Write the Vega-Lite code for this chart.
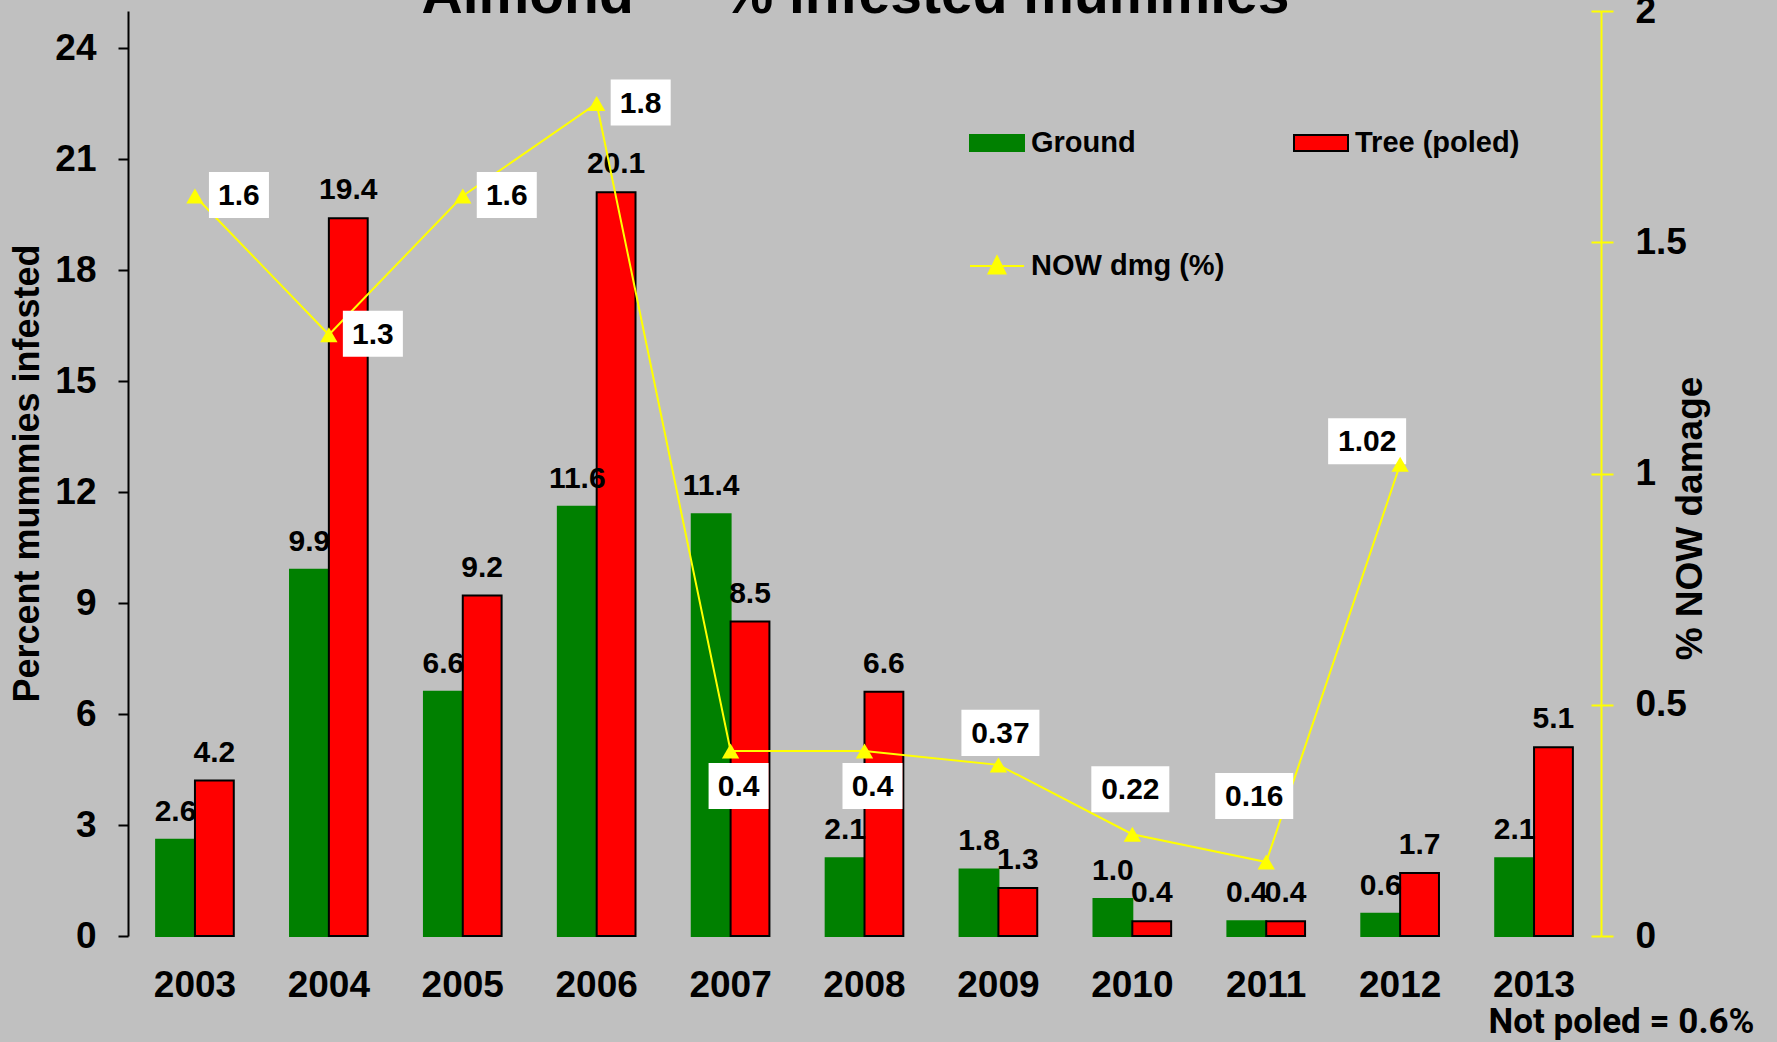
{
  "$schema": "https://vega.github.io/schema/vega-lite/v6.json",
  "width": 1473,
  "height": 925,
  "autosize": "none",
  "padding": {"left": 128, "top": 11, "right": 176, "bottom": 106},
  "background": "#C0C0C0",
  "title": {"text": "Almond — % infested mummies", "font": "Liberation Sans", "fontSize": 57, "fontWeight": "bold", "color": "black", "anchor": "middle", "baseline": "top", "offset": -33, "dx": -9},
  "config": {
    "view": {"stroke": null},
    "axis": {"labelFont": "Liberation Sans", "titleFont": "Liberation Sans", "labelFontWeight": "bold", "titleFontWeight": "bold", "labelColor": "black", "titleColor": "black", "grid": false},
    "legend": {"labelFont": "Liberation Sans", "labelFontWeight": "bold", "labelColor": "black", "labelFontSize": 29, "padding": 0, "labelLimit": 0}
  },
  "datasets": {
    "bars": [
      {"year": 2003, "series": "Ground", "value": 2.6}, {"year": 2003, "series": "Tree (poled)", "value": 4.2},
      {"year": 2004, "series": "Ground", "value": 9.9}, {"year": 2004, "series": "Tree (poled)", "value": 19.4},
      {"year": 2005, "series": "Ground", "value": 6.6}, {"year": 2005, "series": "Tree (poled)", "value": 9.2},
      {"year": 2006, "series": "Ground", "value": 11.6}, {"year": 2006, "series": "Tree (poled)", "value": 20.1},
      {"year": 2007, "series": "Ground", "value": 11.4}, {"year": 2007, "series": "Tree (poled)", "value": 8.5},
      {"year": 2008, "series": "Ground", "value": 2.1}, {"year": 2008, "series": "Tree (poled)", "value": 6.6},
      {"year": 2009, "series": "Ground", "value": 1.8}, {"year": 2009, "series": "Tree (poled)", "value": 1.3},
      {"year": 2010, "series": "Ground", "value": 1.0}, {"year": 2010, "series": "Tree (poled)", "value": 0.4},
      {"year": 2011, "series": "Ground", "value": 0.4}, {"year": 2011, "series": "Tree (poled)", "value": 0.4},
      {"year": 2012, "series": "Ground", "value": 0.6}, {"year": 2012, "series": "Tree (poled)", "value": 1.7},
      {"year": 2013, "series": "Ground", "value": 2.1}, {"year": 2013, "series": "Tree (poled)", "value": 5.1}
    ],
    "dmg": [
      {"year": 2003, "series": "NOW dmg (%)", "dmg": 1.6},
      {"year": 2004, "series": "NOW dmg (%)", "dmg": 1.3},
      {"year": 2005, "series": "NOW dmg (%)", "dmg": 1.6},
      {"year": 2006, "series": "NOW dmg (%)", "dmg": 1.8},
      {"year": 2007, "series": "NOW dmg (%)", "dmg": 0.4},
      {"year": 2008, "series": "NOW dmg (%)", "dmg": 0.4},
      {"year": 2009, "series": "NOW dmg (%)", "dmg": 0.37},
      {"year": 2010, "series": "NOW dmg (%)", "dmg": 0.22},
      {"year": 2011, "series": "NOW dmg (%)", "dmg": 0.16},
      {"year": 2012, "series": "NOW dmg (%)", "dmg": 1.02}
    ]
  },
  "encoding": {
    "x": {
      "field": "year", "type": "nominal",
      "scale": {"paddingInner": 0.42, "paddingOuter": 0.21},
      "axis": {"title": "Not poled = 0.6%", "titleFont": "Roboto", "titleFontSize": 35, "titleFontWeight": "bold", "titleAnchor": "end", "titleAlign": "right", "titleBaseline": "alphabetic", "titleX": 1626, "titleY": 96, "labelAngle": 0, "labelFontSize": 37, "labelPadding": 31, "ticks": false, "tickSize": 0, "domain": false}
    }
  },
  "layer": [
    {
      "data": {"name": "bars"},
      "encoding": {
        "y": {"field": "value", "type": "quantitative", "scale": {"domain": [0, 25], "nice": false},
          "axis": {"values": [0, 3, 6, 9, 12, 15, 18, 21, 24], "format": "d", "title": "Percent mummies infested", "titleFontSize": 36, "titleAngle": 270, "titleAlign": "center", "titleBaseline": "middle", "titleX": -101, "titleY": 462, "labelFontSize": 37, "labelPadding": 22, "tickSize": 10, "tickWidth": 2, "tickColor": "black", "domainColor": "black", "domainWidth": 2}}
      },
      "layer": [
        {
          "mark": {"type": "bar", "strokeWidth": 2},
          "encoding": {
            "xOffset": {"field": "series", "type": "nominal", "scale": {"domain": ["Ground", "Tree (poled)"]}},
            "color": {"field": "series", "type": "nominal", "scale": {"domain": ["Ground", "Tree (poled)"], "range": ["#008000", "#FF0000"]},
              "legend": {"title": null, "orient": "none", "legendX": 841, "legendY": 104, "columns": 2, "columnPadding": 154, "symbolType": "M-1,-0.3H1V0.3H-1Z", "symbolSize": 2916, "symbolStrokeWidth": 2, "symbolOpacity": 1, "labelFontSize": 29, "labelOffset": 6, "labelLimit": 0}},
            "stroke": {"field": "series", "type": "nominal", "scale": {"domain": ["Ground", "Tree (poled)"], "range": ["#008000", "#000000"]},
              "legend": {"title": null, "orient": "none", "legendX": 841, "legendY": 104, "columns": 2, "columnPadding": 154, "symbolType": "M-1,-0.3H1V0.3H-1Z", "symbolSize": 2916, "symbolStrokeWidth": 2, "symbolOpacity": 1, "labelFontSize": 29, "labelOffset": 6, "labelLimit": 0}}
          }
        },
        {
          "mark": {"type": "text", "font": "Liberation Sans", "fontWeight": "bold", "fontSize": 30, "color": "black", "baseline": "alphabetic", "dy": -19},
          "encoding": {
            "xOffset": {"field": "series", "type": "nominal", "scale": {"domain": ["Ground", "Tree (poled)"]}},
            "text": {"field": "value", "type": "quantitative", "format": ".1f"}
          }
        }
      ]
    },
    {
      "data": {"name": "dmg"},
      "encoding": {
        "y": {"field": "dmg", "type": "quantitative", "scale": {"domain": [0, 2], "nice": false},
          "axis": {"orient": "right", "values": [0, 0.5, 1, 1.5, 2], "format": "~g", "title": "% NOW damage", "titleFontSize": 37, "titleAngle": 270, "titleAlign": "center", "titleBaseline": "middle", "titleX": 89, "titleY": 507, "labelFontSize": 37, "labelPadding": 22, "tickSize": 12, "tickWidth": 2, "tickColor": "#FFFF00", "domainColor": "#FFFF00", "domainWidth": 2}}
      },
      "layer": [
        {
          "mark": {"type": "line", "strokeWidth": 2},
          "encoding": {
            "stroke": {"field": "series", "type": "nominal", "scale": {"domain": ["NOW dmg (%)"], "range": ["#FFFF00"]},
              "legend": {"title": null, "orient": "none", "legendX": 841, "legendY": 227, "symbolType": "M-1,0H1M-0.31,0.28L0,-0.35L0.31,0.28Z", "symbolSize": 2916, "symbolStrokeWidth": 2, "symbolFillColor": "#FFFF00", "labelFontSize": 29, "labelOffset": 6, "labelLimit": 0, "encode": {"symbols": {"update": {"fill": {"value": "#FFFF00"}}}}}}
          }
        },
        {"transform": [{"filter": {"field": "year", "oneOf": [2003, 2004, 2005, 2006]}}],
          "mark": {"type": "point", "shape": "M-1,-0.767H1V0.767H-1Z", "size": 3600, "filled": true, "color": "white", "opacity": 1, "xOffset": 44, "yOffset": -1}},
        {"transform": [{"filter": {"field": "year", "oneOf": [2003, 2004, 2005, 2006]}}],
          "mark": {"type": "text", "font": "Liberation Sans", "fontWeight": "bold", "fontSize": 30, "color": "black", "baseline": "middle", "align": "center", "dx": 44, "dy": 0},
          "encoding": {"text": {"field": "dmg", "type": "quantitative", "format": "~g"}}},
        {"transform": [{"filter": {"field": "year", "oneOf": [2007, 2008]}}],
          "mark": {"type": "point", "shape": "M-1,-0.767H1V0.767H-1Z", "size": 3600, "filled": true, "color": "white", "opacity": 1, "xOffset": 8, "yOffset": 35}},
        {"transform": [{"filter": {"field": "year", "oneOf": [2007, 2008]}}],
          "mark": {"type": "text", "font": "Liberation Sans", "fontWeight": "bold", "fontSize": 30, "color": "black", "baseline": "middle", "align": "center", "dx": 8, "dy": 36},
          "encoding": {"text": {"field": "dmg", "type": "quantitative", "format": "~g"}}},
        {"transform": [{"filter": {"field": "year", "equal": 2009}}],
          "mark": {"type": "point", "shape": "M-1,-0.59H1V0.59H-1Z", "size": 6084, "filled": true, "color": "white", "opacity": 1, "xOffset": 2, "yOffset": -32}},
        {"transform": [{"filter": {"field": "year", "equal": 2009}}],
          "mark": {"type": "text", "font": "Liberation Sans", "fontWeight": "bold", "fontSize": 30, "color": "black", "baseline": "middle", "align": "center", "dx": 2, "dy": -31},
          "encoding": {"text": {"field": "dmg", "type": "quantitative", "format": "~g"}}},
        {"transform": [{"filter": {"field": "year", "equal": 2010}}],
          "mark": {"type": "point", "shape": "M-1,-0.59H1V0.59H-1Z", "size": 6084, "filled": true, "color": "white", "opacity": 1, "xOffset": -2, "yOffset": -45}},
        {"transform": [{"filter": {"field": "year", "equal": 2010}}],
          "mark": {"type": "text", "font": "Liberation Sans", "fontWeight": "bold", "fontSize": 30, "color": "black", "baseline": "middle", "align": "center", "dx": -2, "dy": -44},
          "encoding": {"text": {"field": "dmg", "type": "quantitative", "format": "~g"}}},
        {"transform": [{"filter": {"field": "year", "equal": 2011}}],
          "mark": {"type": "point", "shape": "M-1,-0.59H1V0.59H-1Z", "size": 6084, "filled": true, "color": "white", "opacity": 1, "xOffset": -12, "yOffset": -66}},
        {"transform": [{"filter": {"field": "year", "equal": 2011}}],
          "mark": {"type": "text", "font": "Liberation Sans", "fontWeight": "bold", "fontSize": 30, "color": "black", "baseline": "middle", "align": "center", "dx": -12, "dy": -65},
          "encoding": {"text": {"field": "dmg", "type": "quantitative", "format": "~g"}}},
        {"transform": [{"filter": {"field": "year", "equal": 2012}}],
          "mark": {"type": "point", "shape": "M-1,-0.59H1V0.59H-1Z", "size": 6084, "filled": true, "color": "white", "opacity": 1, "xOffset": -33, "yOffset": -23}},
        {"transform": [{"filter": {"field": "year", "equal": 2012}}],
          "mark": {"type": "text", "font": "Liberation Sans", "fontWeight": "bold", "fontSize": 30, "color": "black", "baseline": "middle", "align": "center", "dx": -33, "dy": -22},
          "encoding": {"text": {"field": "dmg", "type": "quantitative", "format": "~g"}}}
      ]
    },
    {
      "data": {"name": "dmg"},
      "mark": {"type": "point", "shape": "triangle-up", "filled": true, "size": 300, "color": "#FFFF00", "opacity": 1},
      "encoding": {
        "y": {"field": "dmg", "type": "quantitative", "scale": {"domain": [0, 2], "nice": false},
          "axis": {"orient": "right", "values": [0, 0.5, 1, 1.5, 2], "labels": false, "domain": false, "title": null, "tickSize": -10, "tickWidth": 2, "tickColor": "#FFFF00"}}
      }
    }
  ],
  "resolve": {"scale": {"y": "independent", "color": "independent", "stroke": "independent"}}
}
